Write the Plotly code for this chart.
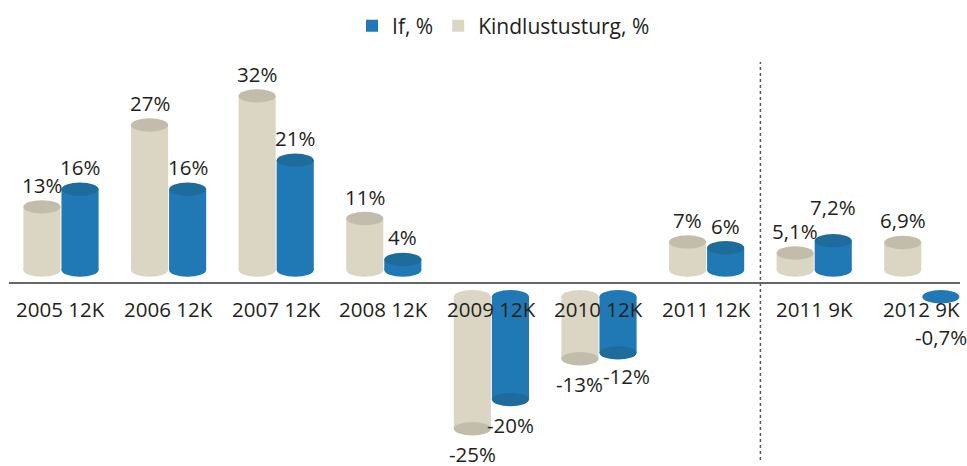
import plotly.graph_objects as go

# ---------------- data ----------------
categories = ["2005 12K", "2006 12K", "2007 12K", "2008 12K", "2009 12K",
              "2010 12K", "2011 12K", "2011 9K", "2012 9K"]
turg_vals = [13, 27, 32, 11, -25, -13, 7, 5.1, 6.9]      # Kindlustusturg, %
if_vals = [16, 16, 21, 4, -20, -12, 6, 7.2, -0.7]         # If, %
series_names = ["If, %", "Kindlustusturg, %"]
divider_pos = 6.5   # between "2011 12K" and "2011 9K"

# ---------------- style ----------------
FONT = "Open Sans"
FS = 20.5
TXT = "#231f20"
BEIGE_BODY, BEIGE_CAP = "#dbd6c3", "#c1bdaa"
BLUE_BODY, BLUE_CAP = "#2079b4", "#1e6c9c"
BAR_W = 0.345
OFF = 0.177
POS_BASE, NEG_BASE = 2.2, -2.4
CAP_H = 1.15


def fmt(v):
    s = ("%g" % v).replace(".", ",")
    return s + "%"


fig = go.Figure()
shapes = []
annotations = []

series = [
    (series_names[1], turg_vals, turg_vals, -OFF, BEIGE_BODY, BEIGE_CAP, 2, False),
    (series_names[0], if_vals, turg_vals, OFF, BLUE_BODY, BLUE_CAP, 1, True),
]

for name, vals, other, off, body, cap, rank, second in series:
    xs, bases, heights = [], [], []
    for i, v in enumerate(vals):
        xc = i + off
        if v >= 0:
            base = POS_BASE
            h = max(v - POS_BASE, 0)
        else:
            base = NEG_BASE
            h = min(v - NEG_BASE, 0)
        xs.append(xc)
        bases.append(base)
        heights.append(h)
        end = base + h
        # base ellipse (body colour)
        shapes.append(dict(type="circle", xref="x", yref="y",
                           x0=xc - BAR_W / 2, x1=xc + BAR_W / 2,
                           y0=base - CAP_H, y1=base + CAP_H,
                           fillcolor=body, line=dict(width=0), layer="above"))
        if h != 0:
            shapes.append(dict(type="circle", xref="x", yref="y",
                               x0=xc - BAR_W / 2, x1=xc + BAR_W / 2,
                               y0=end - CAP_H, y1=end + CAP_H,
                               fillcolor=cap, line=dict(width=0), layer="above"))
        xsh = 0
        if v >= 0:
            ys = 22
            # lift the second label of a pair when it sits just above the first one
            if second and other[i] >= 0 and 0 < v - other[i] < 2.5:
                ys += 12
        else:
            ys = -25 if h != 0 else -40
            # nudge the second label sideways when both negative labels are level
            if second and other[i] < 0 and abs(v - other[i]) < 2.5:
                xsh = 8
                ys += 2
        annotations.append(dict(x=xc, y=end, xref="x", yref="y",
                                text=fmt(v), showarrow=False, yshift=ys, xshift=xsh,
                                font=dict(family=FONT, size=FS, color=TXT)))
    fig.add_trace(go.Bar(x=xs, y=heights, base=bases, width=BAR_W, name=name,
                         marker=dict(color=body, line=dict(width=0)),
                         legendrank=rank, hoverinfo="skip"))

for i, c in enumerate(categories):
    annotations.append(dict(x=i, y=0, xref="x", yref="y", text=c,
                            showarrow=False, yshift=-26,
                            font=dict(family=FONT, size=FS, color=TXT)))

shapes.append(dict(type="line", xref="x", yref="paper", x0=divider_pos, x1=divider_pos,
                   y0=0, y1=1, line=dict(color="#555555", width=1.5, dash="dot"),
                   layer="below"))

fig.update_layout(
    width=967, height=466,
    margin=dict(l=9, r=7, t=58, b=6),
    paper_bgcolor="white", plot_bgcolor="white",
    barmode="overlay",
    font=dict(family=FONT, size=FS, color=TXT),
    showlegend=True,
    legend=dict(orientation="h", x=0.52, xanchor="center", y=1.09, yanchor="middle",
                font=dict(family=FONT, size=21, color=TXT), itemwidth=30,
                bgcolor="rgba(0,0,0,0)"),
    xaxis=dict(range=[-0.483, 8.355], showgrid=False, zeroline=False,
               showticklabels=False, fixedrange=True),
    yaxis=dict(range=[-30.34, 37.8], showgrid=False, zeroline=True,
               zerolinecolor="#666666", zerolinewidth=2,
               showticklabels=False, fixedrange=True),
    shapes=shapes,
    annotations=annotations,
)

fig.write_html("out.html", config={"displayModeBar": False})

# remove default page margin so the figure sits at the window's top-left corner
with open("out.html", "r", encoding="utf-8") as f:
    html = f.read()
html = html.replace("<head>", "<head><style>html,body{margin:0;padding:0;overflow:hidden;}</style>", 1)
with open("out.html", "w", encoding="utf-8") as f:
    f.write(html)
